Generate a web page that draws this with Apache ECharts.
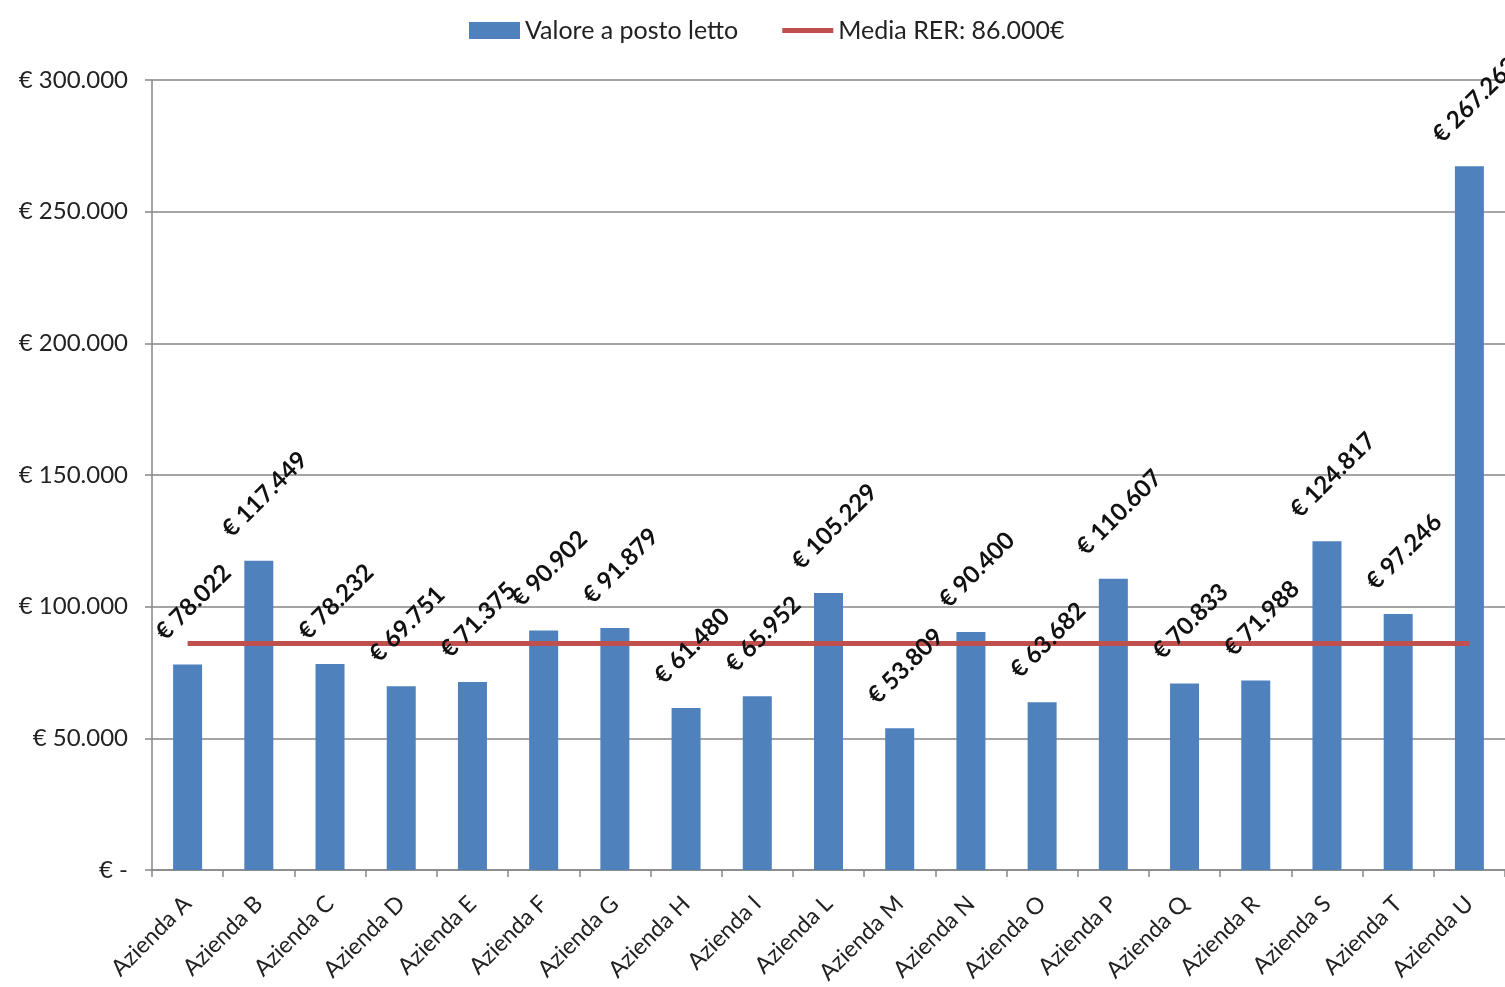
<!DOCTYPE html>
<html>
<head>
<meta charset="utf-8">
<script src="https://cdn.jsdelivr.net/npm/echarts@6/dist/echarts.min.js"></script>
<style>
  html, body { margin: 0; padding: 0; background: #fff; }
  #chart { width: 1505px; height: 987px; }
</style>
</head>
<body>
<div id="chart"></div>
<script>
// dati
var aziende = ['Azienda A', 'Azienda B', 'Azienda C', 'Azienda D', 'Azienda E', 'Azienda F', 'Azienda G',
  'Azienda H', 'Azienda I', 'Azienda L', 'Azienda M', 'Azienda N', 'Azienda O', 'Azienda P',
  'Azienda Q', 'Azienda R', 'Azienda S', 'Azienda T', 'Azienda U'];
var valorePostoLetto = [78022, 117449, 78232, 69751, 71375, 90902, 91879, 61480, 65952, 105229,
  53809, 90400, 63682, 110607, 70833, 71988, 124817, 97246, 267262];
var mediaRER = 86000;
var mediaLine = aziende.map(function () { return mediaRER; });

var font = 'Lato, "Open Sans", sans-serif';

function euro(v) {
  if (v === 0) return '€ -';
  return '€ ' + String(v).replace(/\B(?=(\d{3})+(?!\d))/g, '.');
}

// etichette ruotate 45°: centro sopra la barra come in Excel, più in alto se il testo è lungo
// (l'offset di echarts è nel sistema ruotato, quindi si converte)
var labelData = valorePostoLetto.map(function (v) {
  var n = euro(v).length;
  var d = 23 + (n * 11.9 + 15) * 0.354;
  var sx = 6, sy = -d;
  return {
    value: v,
    label: { offset: [(sx - sy) * 0.7071, (sx + sy) * 0.7071] }
  };
});

var chart = echarts.init(document.getElementById('chart'));
chart.setOption({
  animation: false,
  textStyle: { fontFamily: font },
  legend: {
    top: 13,
    left: 464,
    itemWidth: 51,
    itemHeight: 17,
    itemGap: 44,
    textStyle: { fontSize: 25, color: '#222', fontFamily: font },
    data: [
      { name: 'Valore a posto letto', icon: 'rect' },
      { name: 'Media RER: 86.000€', icon: 'path://M0,0H56V5.5H0Z' }
    ]
  },
  grid: { left: 152, right: -4, top: 80, bottom: 117 },
  xAxis: {
    type: 'category',
    data: aziende,
    axisLine: { lineStyle: { color: '#868686', width: 1.5 } },
    axisTick: { show: true, length: 7, lineStyle: { color: '#868686', width: 1.5 } },
    axisLabel: { rotate: 45, fontSize: 23, color: '#222', margin: 30, interval: 0 }
  },
  yAxis: {
    type: 'value',
    min: 0,
    max: 300000,
    interval: 50000,
    axisLine: { show: true, lineStyle: { color: '#868686', width: 1.5 } },
    axisTick: { show: true, length: 7, lineStyle: { color: '#868686', width: 1.5 } },
    splitLine: { lineStyle: { color: '#868686', width: 1.5 } },
    axisLabel: { fontSize: 24, color: '#222', margin: 24, formatter: euro }
  },
  series: [
    {
      name: 'Valore a posto letto',
      type: 'bar',
      data: valorePostoLetto,
      barWidth: 29,
      itemStyle: { color: '#4F81BD' },
      z: 2
    },
    {
      name: 'Media RER: 86.000€',
      type: 'line',
      data: mediaLine,
      symbol: 'none',
      lineStyle: { color: '#C0504D', width: 5 },
      itemStyle: { color: '#C0504D' },
      z: 3
    },
    {
      // solo etichette, sopra la linea rossa
      name: 'etichette',
      type: 'bar',
      data: labelData,
      barWidth: 29,
      barGap: '-100%',
      silent: true,
      itemStyle: { color: 'rgba(0,0,0,0)' },
      label: {
        show: true,
        position: 'top',
        distance: 0,
        rotate: 45,
        align: 'center',
        verticalAlign: 'middle',
        fontSize: 24,
        fontWeight: 'bold',
        color: '#111',
        formatter: function (p) { return euro(p.value); }
      },
      z: 5
    }
  ]
});
</script>
</body>
</html>
